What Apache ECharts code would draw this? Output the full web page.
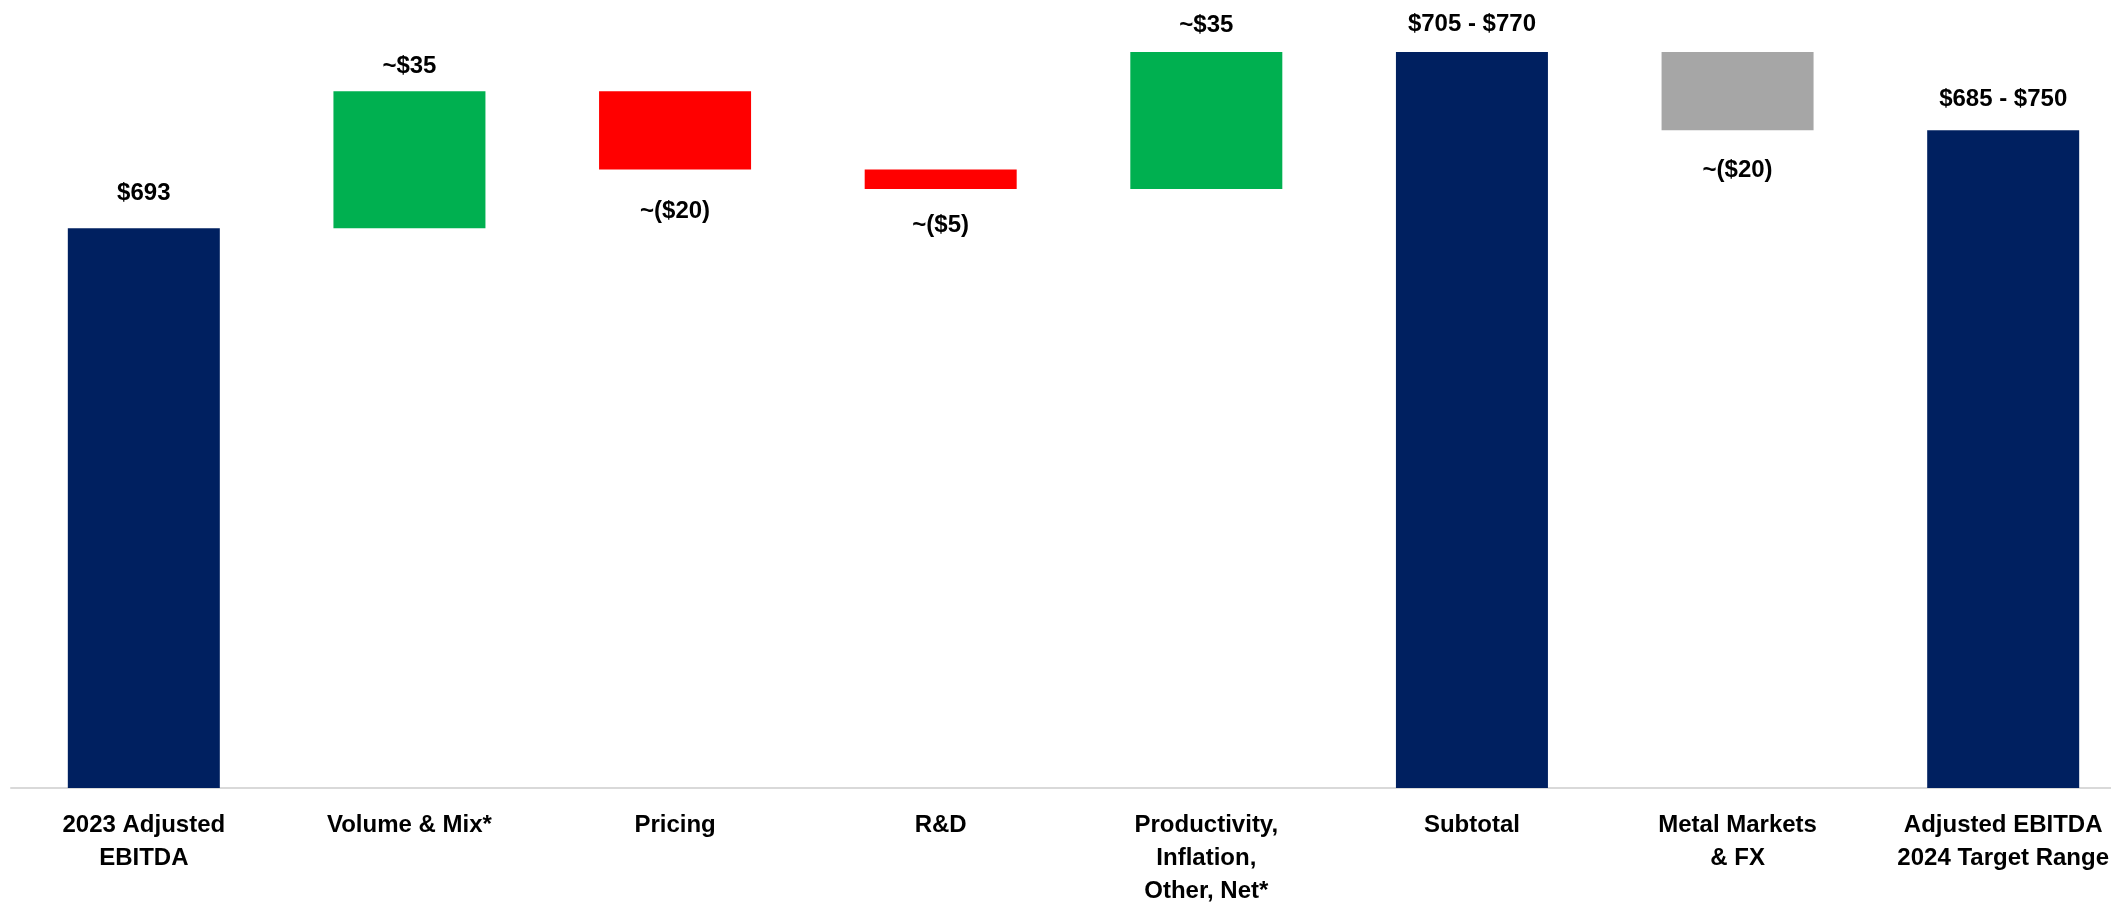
<!DOCTYPE html>
<html>
<head>
<meta charset="utf-8">
<script src="https://cdn.jsdelivr.net/npm/echarts@6/dist/echarts.min.js"></script>
<style>
html,body{margin:0;padding:0;background:#fff;overflow:hidden;}
#chart{width:2136px;height:908px;}
</style>
</head>
<body>
<div id="chart"></div>
<script>
// ---- data ----
const categories = [
  '2023 Adjusted\nEBITDA',
  'Volume & Mix*',
  'Pricing',
  'R&D',
  'Productivity,\nInflation,\nOther, Net*',
  'Subtotal',
  'Metal Markets\n& FX',
  'Adjusted EBITDA\n2024 Target Range'
];
// starting value, then changes; null = computed total bar
const changes = [693, 35, -20, -5, 35, null, -20, null];
const kinds = ['total', 'up', 'down', 'down', 'up', 'total', 'market', 'total'];
const valueLabels = ['$693', '~$35', '~($20)', '~($5)', '~$35', '$705 - $770', '~($20)', '$685 - $750'];

// ---- styles ----
const kindColors = { total: '#002060', up: '#00B050', down: '#FF0000', market: '#A6A6A6' };
const labelGap = [23, 13, 30, 24, 15, 16, 28, 19];

// ---- waterfall build ----
const baseData = [];
const barData = [];
let running = 0;
changes.forEach((d, i) => {
  const k = kinds[i];
  let base, h, below = false;
  if (k === 'total') {
    if (d !== null) running = d;
    base = 0; h = running;
  } else if (d >= 0) {
    base = running; h = d; running += d;
  } else {
    running += d; base = running; h = -d; below = true;
  }
  baseData.push(base);
  barData.push({
    value: h,
    itemStyle: { color: kindColors[k] },
    label: {
      show: true,
      position: below ? 'bottom' : 'top',
      distance: labelGap[i],
      formatter: valueLabels[i]
    }
  });
});

const font = '"Liberation Sans", Arial, sans-serif';
const chart = echarts.init(document.getElementById('chart'), null, { renderer: 'canvas' });
chart.setOption({
  animation: false,
  backgroundColor: '#ffffff',
  grid: { left: 11, right: 0, top: 5, bottom: 116, containLabel: false },
  xAxis: {
    type: 'category',
    data: categories,
    axisLine: { show: true, lineStyle: { color: '#D9D9D9', width: 2 } },
    axisTick: { show: false },
    axisLabel: {
      interval: 0,
      margin: 21,
      color: '#000',
      fontFamily: font,
      fontWeight: 'bold',
      fontSize: 24,
      lineHeight: 33
    }
  },
  yAxis: {
    type: 'value',
    min: 550,
    max: 750,
    show: false,
    splitLine: { show: false }
  },
  series: [
    {
      type: 'bar',
      stack: 'wf',
      data: baseData,
      barWidth: 152,
      itemStyle: { color: 'rgba(0,0,0,0)' },
      emphasis: { disabled: true },
      silent: true
    },
    {
      type: 'bar',
      stack: 'wf',
      data: barData,
      barWidth: 152,
      label: {
        color: '#000',
        fontFamily: font,
        fontWeight: 'bold',
        fontSize: 24,
        lineHeight: 24
      }
    }
  ]
});
</script>
</body>
</html>
